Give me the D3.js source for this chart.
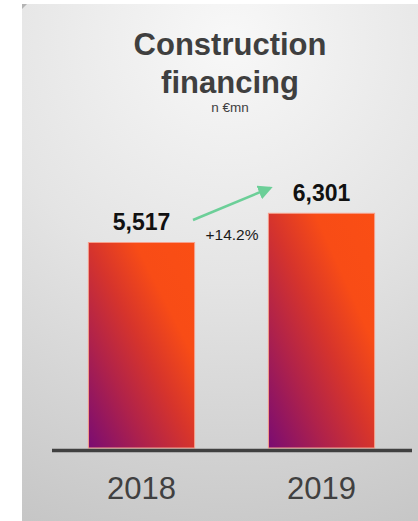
<!DOCTYPE html>
<html>
<head>
<meta charset="utf-8">
<script src="https://cdn.jsdelivr.net/npm/d3@7"></script>
<style>
  html, body { margin: 0; padding: 0; background: #fff; }
  svg { display: block; }
</style>
</head>
<body>
<svg id="chart" width="418" height="521"></svg>
<script>
// Construction financing, € mn
const years = ["2018", "2019"];
const values = [5517, 6301];
const valueLabels = ["5,517", "6,301"];
const growthLabel = "+14.2%";
const titleLines = ["Construction", "financing"];
const unitLabel = "n €mn";

const W = 418, H = 521;
const FONT = "'Liberation Sans', Arial, sans-serif";
const svg = d3.select("#chart");
const defs = svg.append("defs");

// Panel background: light at the top centre, darker grey toward the bottom
const bg = defs.append("radialGradient")
  .attr("id", "panelBg")
  .attr("gradientUnits", "userSpaceOnUse")
  .attr("cx", 230).attr("cy", 40).attr("r", 540);
bg.append("stop").attr("offset", 0).attr("stop-color", "#f8f8f8");
bg.append("stop").attr("offset", 0.45).attr("stop-color", "#e4e4e4");
bg.append("stop").attr("offset", 1).attr("stop-color", "#c4c4c4");

// Bar fill: purple bottom-left to orange top-right
const barGrad = defs.append("linearGradient")
  .attr("id", "barFill")
  .attr("x1", 0).attr("y1", 1).attr("x2", 1).attr("y2", 0);
barGrad.append("stop").attr("offset", 0).attr("stop-color", "#7a0c72");
barGrad.append("stop").attr("offset", 0.28).attr("stop-color", "#b0224a");
barGrad.append("stop").attr("offset", 0.5).attr("stop-color", "#d6342c");
barGrad.append("stop").attr("offset", 0.72).attr("stop-color", "#f84c16");
barGrad.append("stop").attr("offset", 1).attr("stop-color", "#fa4e14");

const arrowHead = defs.append("marker")
  .attr("id", "arrowHead")
  .attr("viewBox", "0 0 10 10")
  .attr("refX", 8).attr("refY", 5)
  .attr("markerWidth", 5.6).attr("markerHeight", 5.6)
  .attr("markerUnits", "strokeWidth")
  .attr("orient", "auto");
arrowHead.append("path").attr("d", "M0,0 L10,5 L0,10 Z").attr("fill", "#6ccf98");

svg.append("rect")
  .attr("x", 22).attr("y", 4)
  .attr("width", W - 22).attr("height", H - 4)
  .attr("fill", "url(#panelBg)");
svg.append("path")
  .attr("d", "M22,4 L27,4 L22,9 Z")
  .attr("fill", "#b4b4b4");

// Scales
const x = d3.scaleBand()
  .domain(years)
  .range([51.5, 411.5])
  .paddingInner(0.41)
  .paddingOuter(0.205);

const baseY = 448;
const y = d3.scaleLinear()
  .domain([0, 5517])
  .range([baseY, 242.5]);

// Title
const title = svg.append("g").attr("fill", "#3f3f3f")
  .attr("font-family", FONT)
  .attr("text-anchor", "middle");
title.selectAll("text.t")
  .data(titleLines)
  .join("text")
  .attr("class", "t")
  .attr("x", 230)
  .attr("y", (d, i) => 55 + i * 38)
  .attr("font-size", 31)
  .attr("font-weight", "bold")
  .text(d => d);
title.append("text")
  .attr("x", 230).attr("y", 112)
  .attr("font-size", 13.5)
  .text(unitLabel);

// Bars
svg.append("g").selectAll("rect")
  .data(values)
  .join("rect")
  .attr("x", (d, i) => x(years[i]))
  .attr("y", d => y(d))
  .attr("width", x.bandwidth())
  .attr("height", d => baseY - y(d))
  .attr("fill", "url(#barFill)")
  .attr("stroke", "#f7a08c")
  .attr("stroke-width", 1);

// Baseline axis
const axis = svg.append("g")
  .attr("transform", `translate(0,${baseY + 2})`)
  .call(d3.axisBottom(x).tickSize(0).tickPadding(0));
axis.select(".domain")
  .attr("stroke", "#404040")
  .attr("stroke-width", 3.5);
axis.selectAll(".tick text")
  .attr("dy", 0)
  .attr("y", 49)
  .attr("fill", "#404040")
  .attr("font-size", 31)
  .attr("font-family", FONT);

// Value labels
svg.append("g").selectAll("text")
  .data(values)
  .join("text")
  .attr("x", (d, i) => x(years[i]) + x.bandwidth() / 2)
  .attr("y", d => y(d) - 12.5)
  .attr("text-anchor", "middle")
  .attr("font-family", FONT)
  .attr("font-weight", "bold")
  .attr("font-size", 23)
  .attr("fill", "#111")
  .text((d, i) => valueLabels[i]);

// Growth arrow and label
svg.append("line")
  .attr("x1", 193).attr("y1", 220)
  .attr("x2", 270).attr("y2", 188)
  .attr("stroke", "#6ccf98")
  .attr("stroke-width", 2.6)
  .attr("marker-end", "url(#arrowHead)");
svg.append("text")
  .attr("x", 232).attr("y", 240)
  .attr("text-anchor", "middle")
  .attr("font-family", FONT)
  .attr("font-size", 15.5)
  .attr("fill", "#1a1a1a")
  .text(growthLabel);
</script>
</body>
</html>
